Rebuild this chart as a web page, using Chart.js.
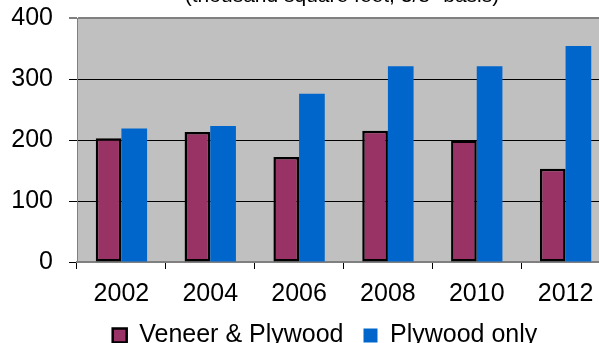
<!DOCTYPE html>
<html>
<head>
<meta charset="utf-8">
<title>Veneer &amp; Plywood production</title>
<script src="https://cdn.jsdelivr.net/npm/chart.js@4.4.1/dist/chart.umd.min.js"></script>
<style>
  html, body { margin: 0; padding: 0; background: #ffffff; overflow: hidden; }
  #wrap { position: absolute; left: 0; top: 0; width: 650px; height: 358px; }
</style>
</head>
<body>
<div id="wrap"><canvas id="chart" width="650" height="358"></canvas></div>
<script>
// Years shown on the category axis
const years = ['2002', '2004', '2006', '2008', '2010', '2012'];
// Production, thousand square feet (3/8" basis)
const veneerAndPlywood = [203, 213, 172, 215, 199, 153];
const plywoodOnly = [219, 223, 276, 321, 321, 354];
// Value axis ticks
const valueTicks = [0, 100, 200, 300, 400];
const seriesNames = ['Veneer & Plywood', 'Plywood only'];
const caption = '(thousand square feet, 3/8" basis)';

const FONT = 'Arial, "Liberation Sans", sans-serif';

// Grey plot area
const plotBackground = {
  id: 'plotBackground',
  beforeDraw(chart) {
    const { ctx, chartArea: a } = chart;
    ctx.save();
    ctx.fillStyle = '#C0C0C0';
    ctx.fillRect(a.left, a.top, a.right - a.left, a.bottom - a.top);
    ctx.restore();
  }
};

// Units caption above the plot
const unitsCaption = {
  id: 'unitsCaption',
  afterDraw(chart) {
    const { ctx } = chart;
    ctx.save();
    ctx.font = '21px ' + FONT;
    ctx.fillStyle = '#000';
    ctx.textAlign = 'center';
    ctx.textBaseline = 'alphabetic';
    ctx.fillText(caption, 342, 2);
    ctx.restore();
  }
};

new Chart(document.getElementById('chart'), {
  type: 'bar',
  data: {
    labels: years,
    datasets: [
      {
        label: seriesNames[0],
        data: veneerAndPlywood,
        backgroundColor: '#993366',
        borderColor: '#000000',
        borderWidth: 2.5,
        borderSkipped: false,
        categoryPercentage: 0.578,
        barPercentage: 1.0
      },
      {
        label: seriesNames[1],
        data: plywoodOnly,
        backgroundColor: '#0066CC',
        borderWidth: 0,
        categoryPercentage: 0.578,
        barPercentage: 1.0
      }
    ]
  },
  options: {
    responsive: false,
    animation: false,
    devicePixelRatio: 1,
    layout: { padding: { top: 18, left: 0, right: 0, bottom: 0 } },
    plugins: {
      legend: {
        position: 'bottom',
        labels: {
          font: { family: FONT, size: 25 },
          color: '#000',
          boxWidth: 14,
          boxHeight: 14,
          padding: 20
        }
      },
      title: { display: false },
      tooltip: { enabled: false }
    },
    scales: {
      x: {
        grid: {
          offset: true,
          drawOnChartArea: false,
          drawTicks: true,
          tickLength: 7,
          tickColor: '#000',
          tickWidth: 1
        },
        border: { display: true, color: '#808080', width: 2 },
        ticks: {
          font: { family: FONT, size: 25 },
          color: '#000',
          padding: 10,
          maxRotation: 0
        },
        afterFit(scale) { scale.height = 41; }
      },
      y: {
        min: valueTicks[0],
        max: valueTicks[valueTicks.length - 1],
        afterBuildTicks(scale) {
          scale.ticks = valueTicks.map(v => ({ value: v }));
        },
        grid: {
          color: ctx => {
            const v = ctx.tick ? ctx.tick.value : null;
            if (v === 0) return 'rgba(0,0,0,0)';
            if (v === 400) return '#808080';
            return '#000';
          },
          lineWidth: ctx => (ctx.tick && ctx.tick.value === 400 ? 2 : 1),
          tickColor: '#000',
          tickLength: 8,
          tickWidth: 1
        },
        border: { display: true, color: '#808080', width: 1 },
        ticks: {
          font: { family: FONT, size: 25 },
          color: '#000',
          padding: 16
        },
        afterFit(scale) {
          scale.width = 77;
          scale.paddingTop = 0;
          scale.paddingBottom = 0;
        }
      },
      yRight: {
        position: 'right',
        display: true,
        grid: { display: false, drawTicks: false },
        border: { display: false },
        ticks: { display: false },
        afterFit(scale) {
          scale.width = 40;
          scale.paddingTop = 0;
          scale.paddingBottom = 0;
        }
      }
    }
  },
  plugins: [plotBackground, unitsCaption]
});
</script>
</body>
</html>
